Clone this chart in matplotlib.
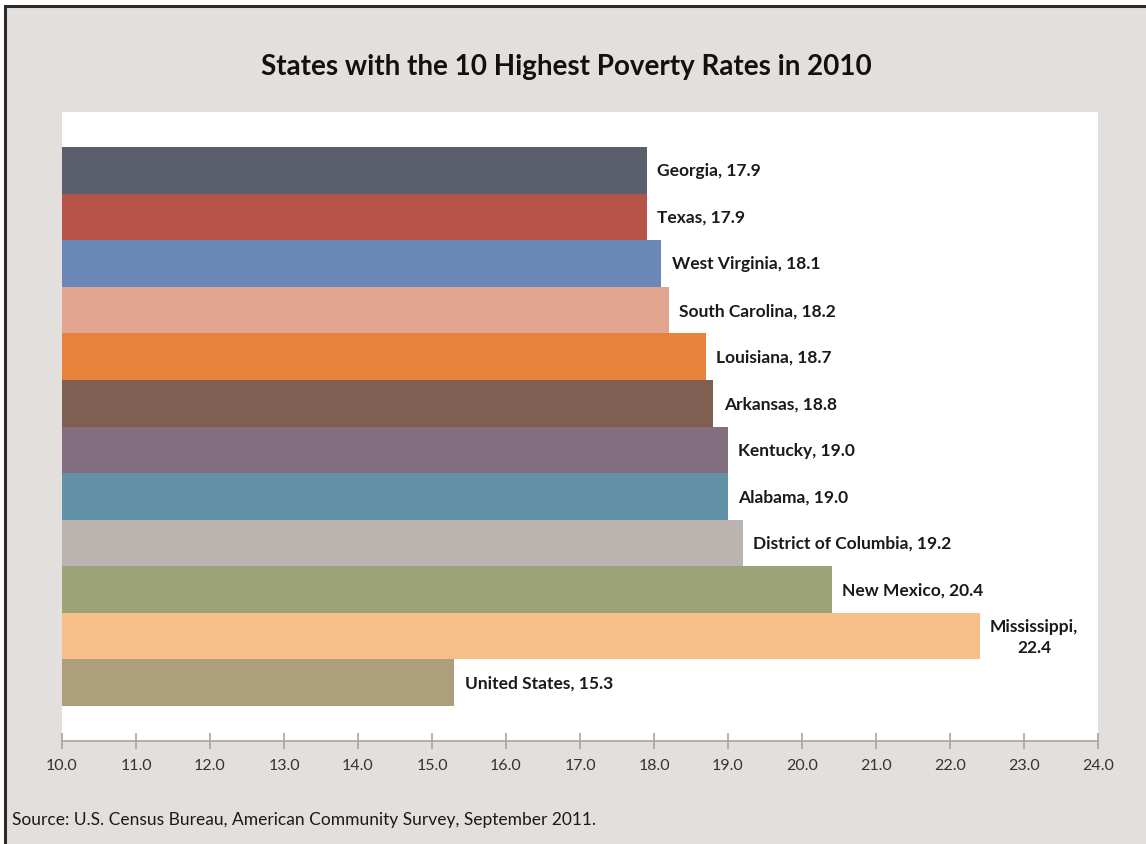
import matplotlib.pyplot as plt
from matplotlib.patches import Rectangle

# datos (de abajo hacia arriba)
estados = ['United States', 'Mississippi', 'New Mexico', 'District of Columbia',
           'Alabama', 'Kentucky', 'Arkansas', 'Louisiana', 'South Carolina',
           'West Virginia', 'Texas', 'Georgia']
tasas = [15.3, 22.4, 20.4, 19.2, 19.0, 19.0, 18.8, 18.7, 18.2, 18.1, 17.9, 17.9]
colores = ['#ae9f7c', '#f6be89', '#9ca378', '#bbb3b0', '#6391a5', '#826e7f',
           '#7e5f52', '#e8823a', '#e2a590', '#6a87b8', '#b7544a', '#5b5e6b']
ticks = [10.0 + i for i in range(15)]

fondo = '#e3dfdc'
plt.rcParams['font.family'] = ['Lato', 'DejaVu Sans']

fig = plt.figure(figsize=(11.46, 8.45), dpi=100)
fig.patch.set_facecolor('white')

# marco gris con borde oscuro arriba e izquierda
fig.patches.append(Rectangle((5 / 1146, -0.1), 1.2, 1.1 - 7 / 845,
                             transform=fig.transFigure, facecolor=fondo,
                             edgecolor='#2b2b2b', linewidth=2.2, zorder=-10))

ax = fig.add_axes([62 / 1146, 1 - 742 / 845, 1036 / 1146, 629 / 845])
ax.set_zorder(5)
ax.set_facecolor('white')

y = list(range(len(estados)))
ax.barh(y, tasas, height=1.0, color=colores, zorder=2)

for i, (e, t) in enumerate(zip(estados, tasas)):
    if e == 'Mississippi':
        texto = e + ',\n' + f'{t:.1f}'
    else:
        texto = e + ', ' + f'{t:.1f}'
    ax.annotate(texto, (t, i), xytext=(7.5, 0), textcoords='offset points',
                ha='left', va='center', fontsize=12.5, fontweight='bold',
                color='#1a1a1a', multialignment='center', linespacing=1.4)

ax.set_xlim(10, 24)
ax.set_ylim(-1.25, 12.25)
ax.set_xticks(ticks)
ax.set_xticklabels([f'{t:.1f}' for t in ticks], fontsize=11.5, color='#333333')
ax.set_yticks([])
for lado in ['top', 'right', 'left']:
    ax.spines[lado].set_visible(False)
ax.spines['bottom'].set_color('#aaa3a1')
ax.spines['bottom'].set_linewidth(1.2)
ax.tick_params(axis='x', direction='inout', length=11, width=1.2,
               color='#aaa3a1', pad=7)

fig.text(566 / 1146, 1 - 67 / 845, 'States with the 10 Highest Poverty Rates in 2010',
         ha='center', va='center', fontsize=20, fontweight='bold', color='#111111')
fig.text(12 / 1146, 1 - 820 / 845,
         'Source: U.S. Census Bureau, American Community Survey, September 2011.',
         ha='left', va='center', fontsize=12.5, color='#1a1a1a')

fig.savefig('out.png', dpi=100, facecolor=fig.get_facecolor())
